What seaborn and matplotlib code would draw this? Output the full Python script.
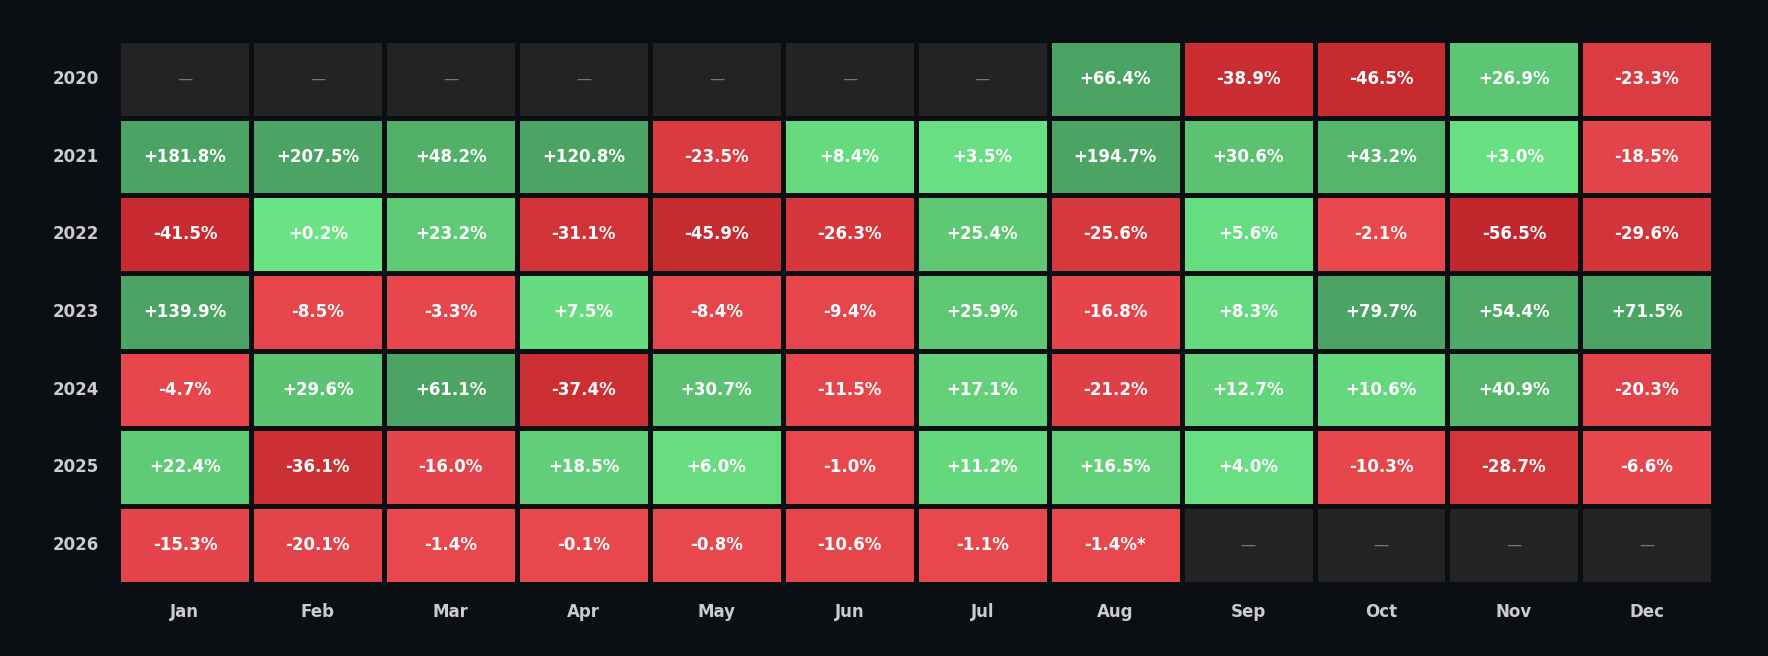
import numpy as np
import pandas as pd
import matplotlib.pyplot as plt
import seaborn as sns
from matplotlib.colors import LinearSegmentedColormap, ListedColormap

# Monthly returns (%), NaN = no data
years = [2020, 2021, 2022, 2023, 2024, 2025, 2026]
months = ['Jan', 'Feb', 'Mar', 'Apr', 'May', 'Jun', 'Jul', 'Aug', 'Sep', 'Oct', 'Nov', 'Dec']
nan = np.nan
r2020 = [nan, nan, nan, nan, nan, nan, nan, 66.4, -38.9, -46.5, 26.9, -23.3]
r2021 = [181.8, 207.5, 48.2, 120.8, -23.5, 8.4, 3.5, 194.7, 30.6, 43.2, 3.0, -18.5]
r2022 = [-41.5, 0.2, 23.2, -31.1, -45.9, -26.3, 25.4, -25.6, 5.6, -2.1, -56.5, -29.6]
r2023 = [139.9, -8.5, -3.3, 7.5, -8.4, -9.4, 25.9, -16.8, 8.3, 79.7, 54.4, 71.5]
r2024 = [-4.7, 29.6, 61.1, -37.4, 30.7, -11.5, 17.1, -21.2, 12.7, 10.6, 40.9, -20.3]
r2025 = [22.4, -36.1, -16.0, 18.5, 6.0, -1.0, 11.2, 16.5, 4.0, -10.3, -28.7, -6.6]
r2026 = [-15.3, -20.1, -1.4, -0.1, -0.8, -10.6, -1.1, -1.4, nan, nan, nan, nan]

df = pd.DataFrame([r2020, r2021, r2022, r2023, r2024, r2025, r2026], index=years, columns=months)

labels = df.map(lambda v: '—' if pd.isna(v) else f'{v:+.1f}%')
labels.loc[2026, 'Aug'] = labels.loc[2026, 'Aug'] + '*'

bg = '#0b0e13'
# value range -60..60 mapped to 0..1
cmap = LinearSegmentedColormap.from_list('rg', [
    (0.0, '#bf262c'), (1 / 6, '#c92d32'), (35 / 120, '#d6383e'), (40 / 120, '#e3434a'),
    (0.4999, '#e8474d'),
    (0.5001, '#6ae384'), (0.75, '#5cc372'), (1.0, '#4ba463')])

fig = plt.figure(figsize=(17.68, 6.56), dpi=100, facecolor=bg)
ax = fig.add_axes([0.067, 0.11, 0.902, 0.829])
ax.set_facecolor(bg)

# gray cells for missing months
missing = df.isna().astype(float)
sns.heatmap(missing, mask=~df.isna(), cmap=ListedColormap(['#232323']), cbar=False,
            linewidths=3.5, linecolor=bg, ax=ax)
sns.heatmap(df.clip(-60, 60), mask=df.isna(), cmap=cmap, vmin=-60, vmax=60, cbar=False,
            linewidths=3.5, linecolor=bg, ax=ax)

for i in range(len(years)):
    for j in range(len(months)):
        v = df.iat[i, j]
        if pd.isna(v):
            ax.text(j + 0.5, i + 0.5, '—', ha='center', va='center', color='#777777', fontsize=11)
        else:
            ax.text(j + 0.5, i + 0.5, labels.iat[i, j], ha='center', va='center',
                    color='white', fontsize=12, fontweight='bold')

ax.tick_params(length=0, colors='#cccccc', labelsize=12, pad=14)
ax.set_yticklabels(years, rotation=0, fontweight='bold', color='#cccccc')
ax.set_xticklabels(months, fontweight='bold', color='#cccccc')
ax.set_xlabel('')
ax.set_ylabel('')

fig.savefig('out.png', facecolor=bg)
